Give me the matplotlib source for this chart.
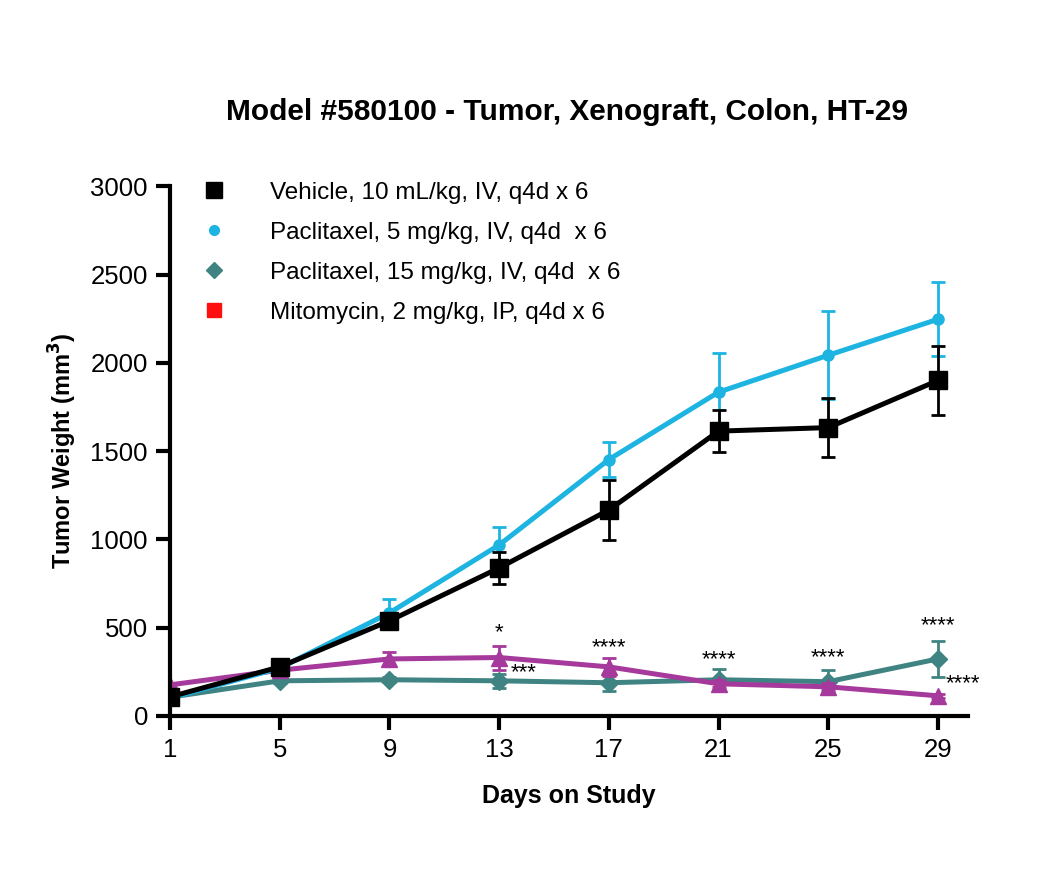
import numpy as np
import matplotlib.pyplot as plt
from matplotlib.lines import Line2D

plt.rcParams['font.family'] = ['Liberation Sans', 'DejaVu Sans']

days = [1, 5, 9, 13, 17, 21, 25, 29]

vehicle = [107, 277, 538, 838, 1166, 1613, 1633, 1900]
vehicle_err = [15, 25, 40, 90, 170, 120, 167, 195]

pac5 = [100, 270, 583, 968, 1452, 1834, 2043, 2247]
pac5_err = [10, 30, 80, 100, 100, 220, 250, 210]

pac15 = [105, 198, 204, 198, 187, 204, 193, 322]
pac15_err = [10, 15, 15, 38, 45, 60, 65, 100]

mito = [175, 258, 322, 330, 277, 181, 164, 113]
mito_err = [10, 20, 40, 68, 50, 20, 20, 10]

legend_labels = ["Vehicle, 10 mL/kg, IV, q4d x 6",
                 "Paclitaxel, 5 mg/kg, IV, q4d  x 6",
                 "Paclitaxel, 15 mg/kg, IV, q4d  x 6",
                 "Mitomycin, 2 mg/kg, IP, q4d x 6"]

# significance marks: (day, y, text)
stars_x = [13, 13.9, 17, 21, 25, 29, 29.9]
stars_y = [470, 245, 385, 315, 330, 510, 180]
stars_t = ["*", "***", "****", "****", "****", "****", "****"]

black = "#000000"
cyan = "#1db4e2"
teal = "#3f8482"
magenta = "#a6399c"
red = "#ff1010"

fig = plt.figure(figsize=(10.5, 8.75), dpi=100)
ax = fig.add_axes([0.162, 0.182, 0.760, 0.605])

ax.errorbar(days, pac15, yerr=pac15_err, color=teal, lw=3.6, marker='D', ms=9,
            capsize=5, elinewidth=2, capthick=2, zorder=3)
ax.errorbar(days, mito, yerr=mito_err, color=magenta, lw=3.6, marker='^', ms=11,
            capsize=5, elinewidth=2, capthick=2, zorder=4)
ax.errorbar(days, pac5, yerr=pac5_err, color=cyan, lw=3.6, marker='o', ms=8,
            capsize=5, elinewidth=2, capthick=2, zorder=5)
ax.errorbar(days, vehicle, yerr=vehicle_err, color=black, lw=3.6, marker='s', ms=12.5,
            capsize=5, elinewidth=2, capthick=2, zorder=6)

for xs, ys, t in zip(stars_x, stars_y, stars_t):
    ax.text(xs, ys, t, ha='center', va='center', fontsize=16)

ax.set_xlim(1, 30.1)
ax.set_ylim(0, 3000)
ax.set_xticks(days)
ax.set_yticks([0, 500, 1000, 1500, 2000, 2500, 3000])
ax.spines['top'].set_visible(False)
ax.spines['right'].set_visible(False)
ax.spines['left'].set_linewidth(3)
ax.spines['bottom'].set_linewidth(3)
ax.spines['left'].set_zorder(10)
ax.tick_params(axis='both', width=3, length=10, labelsize=18.5, pad=6)

ax.set_xlabel("Days on Study", fontsize=18, fontweight='bold', labelpad=16)
ax.set_ylabel("Tumor Weight (mm$^\\mathbf{3}$)", fontsize=17, fontweight='bold', labelpad=8)
fig.suptitle("Model #580100 - Tumor, Xenograft, Colon, HT-29", fontsize=21.5,
             fontweight='bold', x=0.54, y=0.888)

handles = [Line2D([], [], ls='none', marker='s', ms=11, color=black),
           Line2D([], [], ls='none', marker='o', ms=7, color=cyan),
           Line2D([], [], ls='none', marker='D', ms=8, color=teal),
           Line2D([], [], ls='none', marker='s', ms=10, color=red)]
ax.legend(handles, legend_labels, loc='upper left', bbox_to_anchor=(-0.003, 1.05),
          frameon=False, fontsize=17.5, handletextpad=1.3, labelspacing=0.74)

fig.savefig("out.png", dpi=100)
